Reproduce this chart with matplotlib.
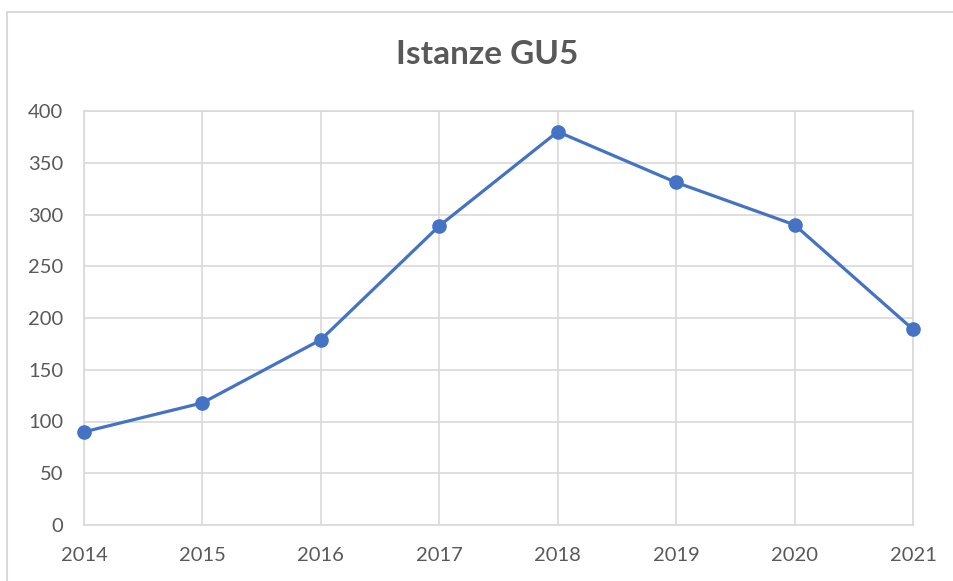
import matplotlib.pyplot as plt
from matplotlib.lines import Line2D

plt.rcParams['font.family'] = ['Lato', 'DejaVu Sans']

# data
years = [2014, 2015, 2016, 2017, 2018, 2019, 2020, 2021]
istanze = [90, 118, 179, 289, 380, 331, 290, 189]
y_ticks = [0, 50, 100, 150, 200, 250, 300, 350, 400]

text_col = '#595959'
grid_col = '#d9d9d9'
line_col = '#4472C4'

fig = plt.figure(figsize=(9.54, 5.81), dpi=100)
ax = fig.add_axes([84 / 954, 1 - 525 / 581, 829 / 954, 414 / 581])

ax.plot(years, istanze, color=line_col, linewidth=2.3, marker='o',
        markersize=9.5, zorder=3, clip_on=False)

ax.set_xlim(years[0], years[-1])
ax.set_ylim(0, 400)
ax.set_xticks(years)
ax.set_yticks(y_ticks)
ax.grid(True, color=grid_col, linewidth=1.2)
ax.tick_params(length=0, labelsize=14.5, labelcolor=text_col)
ax.tick_params(axis='y', pad=15)
ax.tick_params(axis='x', pad=16)
for s in ax.spines.values():
    s.set_color(grid_col)
    s.set_linewidth(1.2)

fig.text(487 / 954, 1 - 55 / 581, 'Istanze GU5', ha='center', va='center',
         fontsize=24, fontweight='bold', color=text_col)

# chart border, only top and left visible (cropped)
x0 = 7.5 / 954
y0 = 1 - 11.5 / 581
fig.add_artist(Line2D([x0, x0, 1.0], [0.0, y0, y0], transform=fig.transFigure,
                      color=grid_col, linewidth=1.5))

fig.savefig('out.png', dpi=100)
